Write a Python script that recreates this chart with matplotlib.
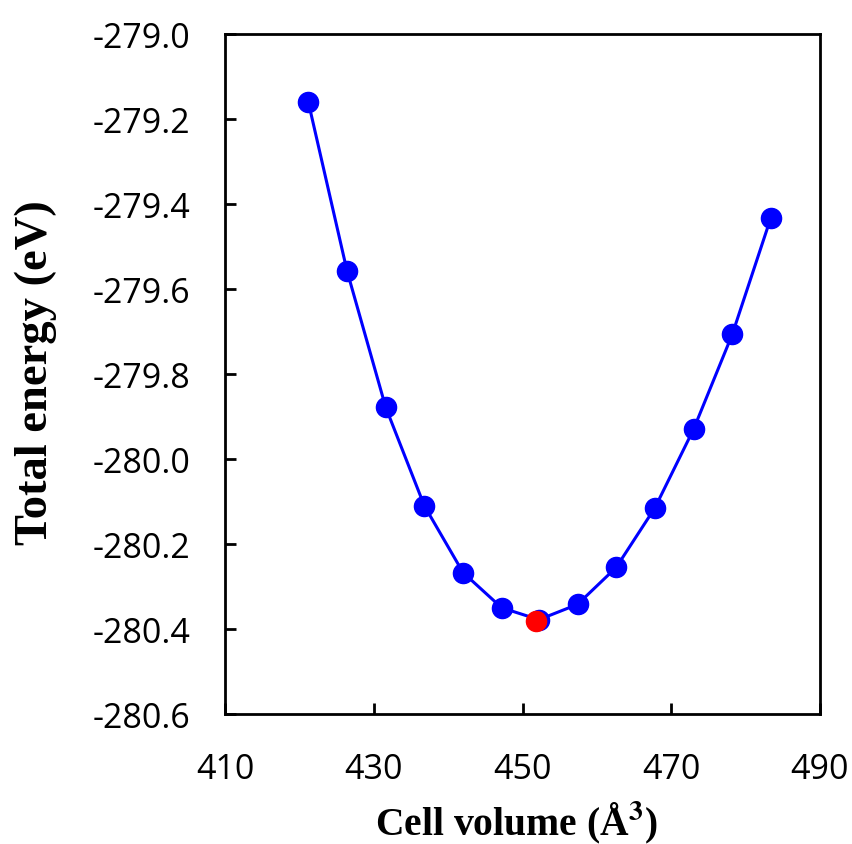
import matplotlib
matplotlib.use('Agg')
import matplotlib.pyplot as plt
import numpy as np

plt.rcParams['mathtext.fontset'] = 'stix'

# cell volume (A^3) and total energy (eV)
volume = [421.2, 426.4, 431.6, 436.8, 442.0, 447.2, 452.2, 457.4, 462.6, 467.8, 473.0, 478.2, 483.4]
energy = [-279.160, -279.557, -279.878, -280.110, -280.267, -280.350, -280.378,
          -280.342, -280.255, -280.115, -279.930, -279.707, -279.432]
# equilibrium point
v_min = [451.8]
e_min = [-280.381]

xticks = [410, 430, 450, 470, 490]
yticks = [-279.0, -279.2, -279.4, -279.6, -279.8, -280.0, -280.2, -280.4, -280.6]

fig = plt.figure(figsize=(8.53, 8.45), dpi=100)
ax = fig.add_axes([0.2638, 0.1538, 0.6975, 0.8048])

ax.plot(volume, energy, '-', color='#0000ff', lw=2.2, zorder=2)
ax.plot(volume, energy, 'o', color='#0000ff', ms=14.5, zorder=3)
ax.plot(v_min, e_min, 'o', color='#ff0000', ms=14.5, zorder=4)

ax.set_xlim(410, 490)
ax.set_ylim(-280.6, -279.0)
ax.set_xticks(xticks)
ax.set_yticks(yticks)
ax.set_xticklabels([str(t) for t in xticks], fontfamily='Open Sans', fontsize=24.5)
ax.set_yticklabels(['%.1f' % t for t in yticks], fontfamily='Open Sans', fontsize=24.5)
ax.tick_params(direction='in', length=8, width=2)
ax.tick_params(axis='y', pad=25)
ax.tick_params(axis='x', pad=27)
for s in ax.spines.values():
    s.set_linewidth(2)

ax.set_xlabel('Cell volume (Å$^{\\mathbf{3}}$)', fontfamily='Liberation Serif',
              fontweight='bold', fontsize=28.5)
ax.set_ylabel('Total energy (eV)', fontfamily='Liberation Serif',
              fontweight='bold', fontsize=33.5)
ax.xaxis.set_label_coords(0.49, -0.124)
ax.yaxis.set_label_coords(-0.282, 0.503)

fig.savefig('out.png', dpi=100)
